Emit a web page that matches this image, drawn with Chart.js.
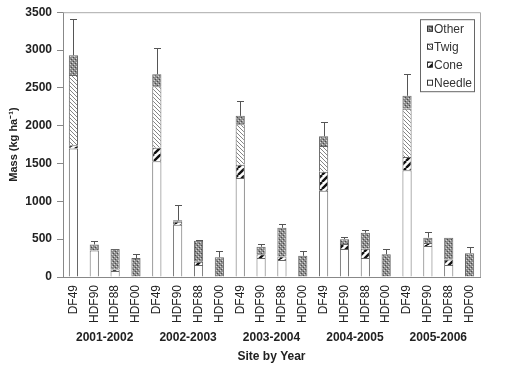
<!DOCTYPE html>
<html>
<head>
<meta charset="utf-8">
<script src="https://cdn.jsdelivr.net/npm/chart.js@4"></script>
<style>
html,body{margin:0;padding:0;background:#fff;}
#wrap{width:522px;height:369px;position:relative;}
</style>
</head>
<body>
<div id="wrap"><canvas id="c" width="522" height="369"></canvas></div>
<script>
// ---- data ----
const sites = ['DF49','HDF90','HDF88','HDF00','DF49','HDF90','HDF88','HDF00','DF49','HDF90','HDF88','HDF00','DF49','HDF90','HDF88','HDF00','DF49','HDF90','HDF88','HDF00'];
const years = ['2001-2002','2002-2003','2003-2004','2004-2005','2005-2006'];
const needle = [1700, 350, 80, 0, 1530, 690, 160, 0, 1310, 250, 225, 0, 1140, 370, 250, 0, 1410, 410, 160, 0];
const cone   = [40, 0, 20, 0, 180, 40, 40, 0, 175, 50, 45, 0, 250, 65, 125, 0, 175, 40, 70, 0];
const twig   = [930, 0, 0, 0, 810, 0, 0, 0, 535, 0, 0, 0, 340, 0, 0, 0, 640, 0, 0, 0];
const other  = [260, 80, 270, 250, 160, 20, 280, 260, 110, 100, 380, 280, 130, 65, 210, 300, 170, 70, 290, 315];
const errorTop = [3410, 470, null, 310, 3025, 955, 490, 345, 2330, 440, 700, 345, 2055, 535, 620, 365, 2685, 595, null, 400];
const yTicks = [0, 500, 1000, 1500, 2000, 2500, 3000, 3500];

// ---- fill patterns ----
function tile(size, draw) {
  const c = document.createElement('canvas');
  c.width = size; c.height = size;
  const g = c.getContext('2d');
  draw(g, size);
  return document.getElementById('c').getContext('2d').createPattern(c, 'repeat');
}
const patNeedle = '#ffffff';
const patCone = tile(7, (g, s) => {
  g.fillStyle = '#fff'; g.fillRect(0, 0, s, s);
  g.strokeStyle = '#111'; g.lineWidth = 2.4;
  for (let i = -s; i <= s; i += s) { g.beginPath(); g.moveTo(i, s); g.lineTo(i + s, 0); g.stroke(); }
});
const patTwig = tile(4, (g, s) => {
  g.fillStyle = '#fff'; g.fillRect(0, 0, s, s);
  g.strokeStyle = '#777'; g.lineWidth = 0.9;
  for (let i = -s; i <= s; i += s) { g.beginPath(); g.moveTo(i, 0); g.lineTo(i + s, s); g.stroke(); }
});
const patOther = tile(4, (g, s) => {
  g.fillStyle = '#8e8e8e'; g.fillRect(0, 0, s, s);
  g.fillStyle = '#4a4a4a'; g.fillRect(1, 1, 1, 1); g.fillRect(3, 3, 1, 1);
  g.fillStyle = '#d8d8d8'; g.fillRect(0, 2, 1, 1); g.fillRect(2, 0, 1, 1);
});

const totals = sites.map((_, i) => needle[i] + cone[i] + twig[i] + other[i]);

const errorBars = {
  id: 'errorBars',
  afterDatasetsDraw(chart) {
    const ctx = chart.ctx, xs = chart.scales.x, ys = chart.scales.y;
    ctx.save();
    ctx.strokeStyle = '#555'; ctx.lineWidth = 1;
    errorTop.forEach((e, i) => {
      if (e == null) return;
      const x = Math.round(xs.getPixelForValue(i)) + 0.5;
      const y0 = ys.getPixelForValue(totals[i]);
      const y1 = Math.round(ys.getPixelForValue(e)) + 0.5;
      ctx.beginPath();
      ctx.moveTo(x, y0); ctx.lineTo(x, y1);
      ctx.moveTo(x - 3.5, y1); ctx.lineTo(x + 3.5, y1);
      ctx.stroke();
    });
    ctx.restore();
  }
};

const frame = {
  id: 'frame',
  beforeDatasetsDraw(chart) {
    const {ctx, chartArea: a} = chart;
    ctx.save();
    ctx.strokeStyle = '#aaa'; ctx.lineWidth = 1;
    ctx.beginPath();
    ctx.moveTo(a.left, a.top + 0.5); ctx.lineTo(a.right + 0.5, a.top + 0.5); ctx.lineTo(a.right + 0.5, a.bottom);
    ctx.stroke();
    ctx.restore();
  }
};

const legendBox = {
  id: 'legendBox',
  afterDraw(chart) {
    const {ctx, chartArea: a} = chart;
    const ds = chart.data.datasets.slice().reverse();
    const bx = a.right - 60, by = a.top + 7, bw = 54, bh = 72;
    ctx.save();
    ctx.fillStyle = '#fff'; ctx.fillRect(bx, by, bw, bh);
    ctx.strokeStyle = '#666'; ctx.lineWidth = 1;
    ctx.strokeRect(bx + 0.5, by + 0.5, bw, bh);
    ctx.font = '12px "Liberation Sans", Arial, sans-serif';
    ctx.textBaseline = 'middle';
    ds.forEach((d, k) => {
      const cy = by + 9.5 + k * 18;
      ctx.fillStyle = d.backgroundColor;
      ctx.fillRect(bx + 7, cy - 3, 6, 6);
      ctx.strokeStyle = '#333';
      ctx.strokeRect(bx + 7.5, cy - 2.5, 5, 5);
      ctx.fillStyle = '#333';
      ctx.fillText(d.label, bx + 14, cy + 0.5);
    });
    ctx.restore();
  }
};

const common = { borderColor: '#666', borderWidth: 1, barPercentage: 0.44, categoryPercentage: 1.0, xAxisID: 'x', yAxisID: 'y' };

new Chart(document.getElementById('c'), {
  type: 'bar',
  data: {
    labels: sites,
    datasets: [
      Object.assign({ label: 'Needle', data: needle, backgroundColor: patNeedle }, common),
      Object.assign({ label: 'Cone', data: cone, backgroundColor: patCone }, common),
      Object.assign({ label: 'Twig', data: twig, backgroundColor: patTwig }, common),
      Object.assign({ label: 'Other', data: other, backgroundColor: patOther }, common)
    ]
  },
  options: {
    responsive: false,
    animation: false,
    devicePixelRatio: 1,
    layout: { padding: { left: 0, right: 42, top: 8, bottom: 0 } },
    plugins: { legend: { display: false }, tooltip: { enabled: false } },
    scales: {
      x: {
        stacked: true,
        position: 'bottom',
        grid: { display: true, drawOnChartArea: false, drawTicks: false },
        border: { color: '#888' },
        ticks: { minRotation: 90, maxRotation: 90, autoSkip: false, padding: 8, color: '#222',
                 font: { family: '"Liberation Sans", Arial, sans-serif', size: 12 } },
        afterFit(s) { s.height = 50; }
      },
      x2: {
        type: 'category',
        labels: years,
        position: 'bottom',
        offset: true,
        grid: { display: false, drawTicks: false },
        border: { display: false },
        ticks: { maxRotation: 0, minRotation: 0, padding: 3, color: '#222',
                 font: { family: '"Liberation Sans", Arial, sans-serif', size: 12, weight: 'bold' } },
        title: { display: true, text: 'Site by Year', color: '#222', padding: { top: 2, bottom: 5 },
                 font: { family: '"Liberation Sans", Arial, sans-serif', size: 12, weight: 'bold' } },
        afterFit(s) { s.height = 42; }
      },
      y: {
        stacked: true,
        min: 0, max: 3500,
        afterBuildTicks(s) { s.ticks = yTicks.map(v => ({ value: v })); },
        grid: { display: true, drawOnChartArea: false, drawTicks: true, tickLength: 6, color: '#888' },
        border: { color: '#888' },
        ticks: { padding: 5, color: '#222', callback: v => String(v),
                 font: { family: '"Liberation Sans", Arial, sans-serif', size: 12, weight: 'bold' } },
        title: { display: true, text: 'Mass (kg ha\u207B\u00B9)', color: '#222', padding: { top: 7, bottom: 0 },
                 font: { family: '"Liberation Sans", Arial, sans-serif', size: 11, weight: 'bold' } },
        afterFit(s) { s.width = 63; }
      }
    }
  },
  plugins: [frame, errorBars, legendBox]
});
</script>
</body>
</html>
